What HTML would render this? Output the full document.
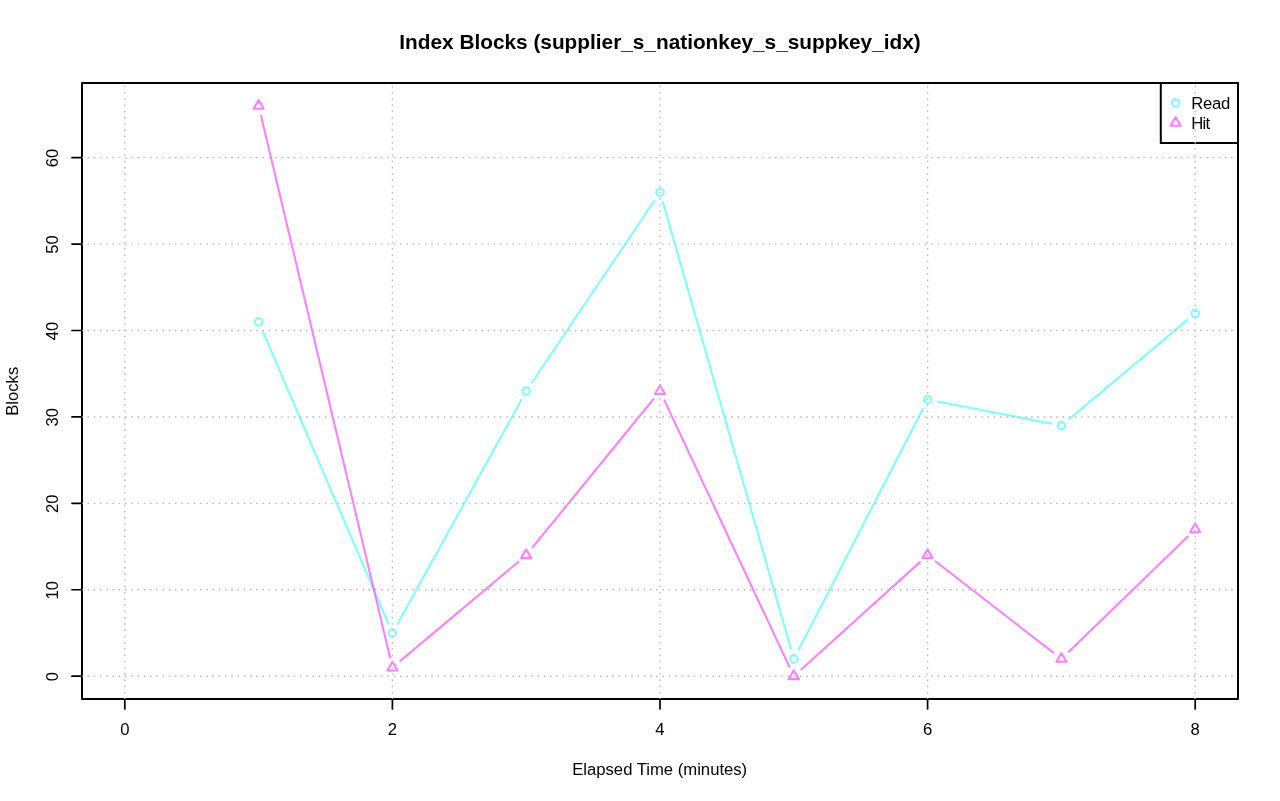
<!DOCTYPE html>
<html><head><meta charset="utf-8"><title>Index Blocks</title>
<style>
html,body{margin:0;padding:0;background:#fff;}
body{width:1280px;height:801px;overflow:hidden;}
svg{display:block;will-change:transform;}
text{font-family:"Liberation Sans",sans-serif;fill:#000;}
.t{font-size:16.67px;}
.title{font-size:20.8px;font-weight:bold;}
</style></head><body>
<svg width="1280" height="801" viewBox="0 0 1280 801">
<line x1="262.68" y1="331.33" x2="388.34" y2="623.51" stroke="#55ffff" stroke-opacity="0.75" stroke-width="2.08" stroke-linecap="round"/>
<line x1="397.39" y1="623.96" x2="521.22" y2="400.01" stroke="#55ffff" stroke-opacity="0.75" stroke-width="2.08" stroke-linecap="round"/>
<line x1="531.96" y1="382.46" x2="654.25" y2="200.78" stroke="#55ffff" stroke-opacity="0.75" stroke-width="2.08" stroke-linecap="round"/>
<line x1="662.84" y1="202.14" x2="790.96" y2="649.00" stroke="#55ffff" stroke-opacity="0.75" stroke-width="2.08" stroke-linecap="round"/>
<line x1="798.52" y1="649.75" x2="922.87" y2="408.79" stroke="#55ffff" stroke-opacity="0.75" stroke-width="2.08" stroke-linecap="round"/>
<line x1="937.70" y1="401.60" x2="1051.28" y2="423.61" stroke="#55ffff" stroke-opacity="0.75" stroke-width="2.08" stroke-linecap="round"/>
<line x1="1069.28" y1="418.94" x2="1187.30" y2="319.85" stroke="#55ffff" stroke-opacity="0.75" stroke-width="2.08" stroke-linecap="round"/>
<circle cx="258.61" cy="321.86" r="3.75" fill="none" stroke="#55ffff" stroke-opacity="0.75" stroke-width="2.08"/>
<circle cx="392.41" cy="632.98" r="3.75" fill="none" stroke="#55ffff" stroke-opacity="0.75" stroke-width="2.08"/>
<circle cx="526.20" cy="391.00" r="3.75" fill="none" stroke="#55ffff" stroke-opacity="0.75" stroke-width="2.08"/>
<circle cx="660.00" cy="192.23" r="3.75" fill="none" stroke="#55ffff" stroke-opacity="0.75" stroke-width="2.08"/>
<circle cx="793.80" cy="658.90" r="3.75" fill="none" stroke="#55ffff" stroke-opacity="0.75" stroke-width="2.08"/>
<circle cx="927.59" cy="399.64" r="3.75" fill="none" stroke="#55ffff" stroke-opacity="0.75" stroke-width="2.08"/>
<circle cx="1061.39" cy="425.57" r="3.75" fill="none" stroke="#55ffff" stroke-opacity="0.75" stroke-width="2.08"/>
<circle cx="1195.19" cy="313.22" r="3.75" fill="none" stroke="#55ffff" stroke-opacity="0.75" stroke-width="2.08"/>
<line x1="261.00" y1="115.83" x2="390.02" y2="657.52" stroke="#ff55ff" stroke-opacity="0.75" stroke-width="2.08" stroke-linecap="round"/>
<line x1="400.30" y1="660.92" x2="518.32" y2="561.82" stroke="#ff55ff" stroke-opacity="0.75" stroke-width="2.08" stroke-linecap="round"/>
<line x1="532.71" y1="547.21" x2="653.49" y2="398.98" stroke="#ff55ff" stroke-opacity="0.75" stroke-width="2.08" stroke-linecap="round"/>
<line x1="664.37" y1="400.32" x2="789.42" y2="666.86" stroke="#ff55ff" stroke-opacity="0.75" stroke-width="2.08" stroke-linecap="round"/>
<line x1="801.44" y1="669.28" x2="919.95" y2="562.11" stroke="#ff55ff" stroke-opacity="0.75" stroke-width="2.08" stroke-linecap="round"/>
<line x1="935.73" y1="561.51" x2="1053.25" y2="652.59" stroke="#ff55ff" stroke-opacity="0.75" stroke-width="2.08" stroke-linecap="round"/>
<line x1="1068.79" y1="651.73" x2="1187.79" y2="536.44" stroke="#ff55ff" stroke-opacity="0.75" stroke-width="2.08" stroke-linecap="round"/>
<polygon points="258.61,99.98 263.66,108.73 253.56,108.73" fill="none" stroke="#ff55ff" stroke-opacity="0.75" stroke-width="2.08" stroke-linejoin="round"/>
<polygon points="392.41,661.71 397.46,670.46 387.36,670.46" fill="none" stroke="#ff55ff" stroke-opacity="0.75" stroke-width="2.08" stroke-linejoin="round"/>
<polygon points="526.20,549.37 531.25,558.11 521.15,558.11" fill="none" stroke="#ff55ff" stroke-opacity="0.75" stroke-width="2.08" stroke-linejoin="round"/>
<polygon points="660.00,385.17 665.05,393.92 654.95,393.92" fill="none" stroke="#ff55ff" stroke-opacity="0.75" stroke-width="2.08" stroke-linejoin="round"/>
<polygon points="793.80,670.35 798.85,679.10 788.75,679.10" fill="none" stroke="#ff55ff" stroke-opacity="0.75" stroke-width="2.08" stroke-linejoin="round"/>
<polygon points="927.59,549.37 932.64,558.11 922.54,558.11" fill="none" stroke="#ff55ff" stroke-opacity="0.75" stroke-width="2.08" stroke-linejoin="round"/>
<polygon points="1061.39,653.07 1066.44,661.82 1056.34,661.82" fill="none" stroke="#ff55ff" stroke-opacity="0.75" stroke-width="2.08" stroke-linejoin="round"/>
<polygon points="1195.19,523.44 1200.24,532.19 1190.13,532.19" fill="none" stroke="#ff55ff" stroke-opacity="0.75" stroke-width="2.08" stroke-linejoin="round"/>
<line x1="124.81" y1="699.0" x2="124.81" y2="709.0" stroke="#000" stroke-width="1.7" stroke-linecap="round"/>
<text x="124.81" y="735.3" text-anchor="middle" class="t">0</text>
<line x1="392.41" y1="699.0" x2="392.41" y2="709.0" stroke="#000" stroke-width="1.7" stroke-linecap="round"/>
<text x="392.41" y="735.3" text-anchor="middle" class="t">2</text>
<line x1="660.00" y1="699.0" x2="660.00" y2="709.0" stroke="#000" stroke-width="1.7" stroke-linecap="round"/>
<text x="660.00" y="735.3" text-anchor="middle" class="t">4</text>
<line x1="927.59" y1="699.0" x2="927.59" y2="709.0" stroke="#000" stroke-width="1.7" stroke-linecap="round"/>
<text x="927.59" y="735.3" text-anchor="middle" class="t">6</text>
<line x1="1195.19" y1="699.0" x2="1195.19" y2="709.0" stroke="#000" stroke-width="1.7" stroke-linecap="round"/>
<text x="1195.19" y="735.3" text-anchor="middle" class="t">8</text>
<line x1="124.81" y1="699.0" x2="1195.19" y2="699.0" stroke="#000" stroke-width="1.7"/>
<line x1="72.0" y1="676.19" x2="82.0" y2="676.19" stroke="#000" stroke-width="1.7" stroke-linecap="round"/>
<text transform="translate(58.35,676.59) rotate(-90)" text-anchor="middle" class="t">0</text>
<line x1="72.0" y1="589.77" x2="82.0" y2="589.77" stroke="#000" stroke-width="1.7" stroke-linecap="round"/>
<text transform="translate(58.35,590.17) rotate(-90)" text-anchor="middle" class="t">10</text>
<line x1="72.0" y1="503.35" x2="82.0" y2="503.35" stroke="#000" stroke-width="1.7" stroke-linecap="round"/>
<text transform="translate(58.35,503.75) rotate(-90)" text-anchor="middle" class="t">20</text>
<line x1="72.0" y1="416.93" x2="82.0" y2="416.93" stroke="#000" stroke-width="1.7" stroke-linecap="round"/>
<text transform="translate(58.35,417.33) rotate(-90)" text-anchor="middle" class="t">30</text>
<line x1="72.0" y1="330.51" x2="82.0" y2="330.51" stroke="#000" stroke-width="1.7" stroke-linecap="round"/>
<text transform="translate(58.35,330.91) rotate(-90)" text-anchor="middle" class="t">40</text>
<line x1="72.0" y1="244.09" x2="82.0" y2="244.09" stroke="#000" stroke-width="1.7" stroke-linecap="round"/>
<text transform="translate(58.35,244.49) rotate(-90)" text-anchor="middle" class="t">50</text>
<line x1="72.0" y1="157.67" x2="82.0" y2="157.67" stroke="#000" stroke-width="1.7" stroke-linecap="round"/>
<text transform="translate(58.35,158.07) rotate(-90)" text-anchor="middle" class="t">60</text>
<rect x="82.0" y="83.0" width="1156.0" height="616.0" fill="none" stroke="#000" stroke-width="2.0" stroke-linejoin="round"/>
<text x="660" y="49" text-anchor="middle" class="title">Index Blocks (supplier_s_nationkey_s_suppkey_idx)</text>
<text x="659.7" y="775.2" text-anchor="middle" class="t">Elapsed Time (minutes)</text>
<text transform="translate(17.6,391.3) rotate(-90)" text-anchor="middle" class="t">Blocks</text>
<rect x="1160.8" y="83.0" width="77.2" height="59.9" fill="#fff" stroke="#000" stroke-width="2.0" stroke-linejoin="round"/>
<circle cx="1175.60" cy="102.90" r="3.75" fill="none" stroke="#55ffff" stroke-opacity="0.75" stroke-width="2.08"/>
<polygon points="1175.60,117.07 1180.65,125.82 1170.55,125.82" fill="none" stroke="#ff55ff" stroke-opacity="0.75" stroke-width="2.08" stroke-linejoin="round"/>
<text x="1191.2" y="108.6" class="t" letter-spacing="-0.25">Read</text>
<text x="1191.2" y="128.6" class="t" letter-spacing="-0.7">Hit</text>
<line x1="124.81" y1="699.0" x2="124.81" y2="83.0" stroke="#b8b8b8" stroke-width="1.4" stroke-dasharray="1.5 4.75" stroke-dashoffset="0.75"/>
<line x1="392.41" y1="699.0" x2="392.41" y2="83.0" stroke="#b8b8b8" stroke-width="1.4" stroke-dasharray="1.5 4.75" stroke-dashoffset="0.75"/>
<line x1="660.00" y1="699.0" x2="660.00" y2="83.0" stroke="#b8b8b8" stroke-width="1.4" stroke-dasharray="1.5 4.75" stroke-dashoffset="0.75"/>
<line x1="927.59" y1="699.0" x2="927.59" y2="83.0" stroke="#b8b8b8" stroke-width="1.4" stroke-dasharray="1.5 4.75" stroke-dashoffset="0.75"/>
<line x1="1195.19" y1="699.0" x2="1195.19" y2="83.0" stroke="#b8b8b8" stroke-width="1.4" stroke-dasharray="1.5 4.75" stroke-dashoffset="0.75"/>
<line x1="82.0" y1="676.19" x2="1235.0" y2="676.19" stroke="#b8b8b8" stroke-width="1.4" stroke-dasharray="1.5 4.75" stroke-dashoffset="0.75"/>
<line x1="82.0" y1="589.77" x2="1235.0" y2="589.77" stroke="#b8b8b8" stroke-width="1.4" stroke-dasharray="1.5 4.75" stroke-dashoffset="0.75"/>
<line x1="82.0" y1="503.35" x2="1235.0" y2="503.35" stroke="#b8b8b8" stroke-width="1.4" stroke-dasharray="1.5 4.75" stroke-dashoffset="0.75"/>
<line x1="82.0" y1="416.93" x2="1235.0" y2="416.93" stroke="#b8b8b8" stroke-width="1.4" stroke-dasharray="1.5 4.75" stroke-dashoffset="0.75"/>
<line x1="82.0" y1="330.51" x2="1235.0" y2="330.51" stroke="#b8b8b8" stroke-width="1.4" stroke-dasharray="1.5 4.75" stroke-dashoffset="0.75"/>
<line x1="82.0" y1="244.09" x2="1235.0" y2="244.09" stroke="#b8b8b8" stroke-width="1.4" stroke-dasharray="1.5 4.75" stroke-dashoffset="0.75"/>
<line x1="82.0" y1="157.67" x2="1235.0" y2="157.67" stroke="#b8b8b8" stroke-width="1.4" stroke-dasharray="1.5 4.75" stroke-dashoffset="0.75"/>
</svg>
</body></html>
